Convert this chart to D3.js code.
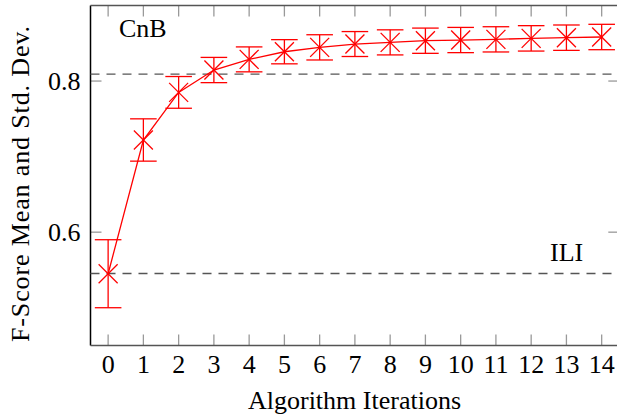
<!DOCTYPE html>
<html><head><meta charset="utf-8">
<script src="https://cdn.jsdelivr.net/npm/d3@7"></script>
<style>body{margin:0;background:#fff}svg{display:block}</style>
</head><body>
<svg id="c" width="617" height="416"></svg>
<script>
const iterations = [0,1,2,3,4,5,6,7,8,9,10,11,12,13,14];
const meanF = [0.545,0.722,0.785,0.8146,0.8287,0.8388,0.8446,0.849,0.8512,0.8534,0.8543,0.8552,0.8565,0.8574,0.8583];
const stdF  = [0.045,0.028,0.021,0.0167,0.0165,0.016,0.0167,0.0165,0.0166,0.0167,0.0167,0.0167,0.0168,0.0168,0.0168];
const xTicks = [0,1,2,3,4,5,6,7,8,9,10,11,12,13,14];
const yTicks = [0.6,0.8];
const refLines = [{name:"CnB", value:0.8093},{name:"ILI", value:0.5453}];

const svg = d3.select("#c");
const L=90.5, R=619.3, T=5.5, B=345.5;
const x = d3.scaleLinear().domain([-0.5,14.5]).range([L,R]);
const y = d3.scaleLinear().domain([0.45,0.9]).range([B,T]);
const fs = 26;
const tickLen = 11;
const font = '"Liberation Serif"';

// ticks (inside, mirrored)
const gt = svg.append("g").attr("stroke","#999").attr("stroke-width",1.3);
xTicks.forEach(t=>{
  gt.append("line").attr("x1",x(t)).attr("x2",x(t)).attr("y1",B).attr("y2",B-tickLen);
  gt.append("line").attr("x1",x(t)).attr("x2",x(t)).attr("y1",T).attr("y2",T+tickLen);
});
yTicks.forEach(t=>{
  gt.append("line").attr("y1",y(t)).attr("y2",y(t)).attr("x1",L).attr("x2",L+tickLen);
  gt.append("line").attr("y1",y(t)).attr("y2",y(t)).attr("x1",R).attr("x2",R-tickLen);
});
svg.append("line").attr("x1",L).attr("x2",L).attr("y1",T).attr("y2",B).attr("stroke","#000").attr("stroke-width",1.5);
svg.append("line").attr("x1",L).attr("x2",R).attr("y1",B).attr("y2",B).attr("stroke","#555").attr("stroke-width",1.5);
svg.append("line").attr("x1",L).attr("x2",R).attr("y1",T).attr("y2",T).attr("stroke","#555").attr("stroke-width",1.5);

const txt = (sel)=>sel.append("text").style("font-family",font).style("font-size",fs+"px").attr("fill","#000");

// tick labels
xTicks.forEach(t=>{
  txt(svg).attr("x",x(t)).attr("y",372.5).attr("text-anchor","middle").text(d3.format("d")(t));
});
yTicks.forEach(t=>{
  txt(svg).attr("x",80.5).attr("y",y(t)+8.5).attr("text-anchor","end").text(d3.format(".1f")(t));
});

// reference lines
refLines.forEach(r=>{
  svg.append("line").attr("x1",L).attr("x2",R).attr("y1",y(r.value)).attr("y2",y(r.value))
    .attr("stroke","#555").attr("stroke-width",1.3).attr("stroke-dasharray","9,7");
});
txt(svg).attr("x",119).attr("y",37).text(refLines[0].name);
txt(svg).attr("x",550).attr("y",261).text(refLines[1].name);

// series
const data = iterations.map((d,i)=>({x:d,m:meanF[i],s:stdF[i]}));
const red = "#ff0000";
svg.append("path").datum(data)
  .attr("d", d3.line().x(d=>x(d.x)).y(d=>y(d.m)))
  .attr("fill","none").attr("stroke",red).attr("stroke-width",1.3);
const cap = 13.3, mk = 9.5;
const g = svg.append("g").attr("stroke",red).attr("stroke-width",1.3).attr("fill","none");
data.forEach(d=>{
  const cx=x(d.x), cy=y(d.m), y1=y(d.m+d.s), y2=y(d.m-d.s);
  g.append("line").attr("x1",cx).attr("x2",cx).attr("y1",y1).attr("y2",y2);
  g.append("line").attr("x1",cx-cap).attr("x2",cx+cap).attr("y1",y1).attr("y2",y1);
  g.append("line").attr("x1",cx-cap).attr("x2",cx+cap).attr("y1",y2).attr("y2",y2);
  g.append("line").attr("x1",cx-mk).attr("x2",cx+mk).attr("y1",cy-mk).attr("y2",cy+mk);
  g.append("line").attr("x1",cx-mk).attr("x2",cx+mk).attr("y1",cy+mk).attr("y2",cy-mk);
});

// axis labels
txt(svg).attr("x",354.5).attr("y",409).attr("text-anchor","middle").text("Algorithm Iterations");
txt(svg).attr("transform",`translate(29,184) rotate(-90)`)
  .attr("text-anchor","middle").attr("textLength",316).attr("lengthAdjust","spacing")
  .text("F-Score Mean and Std. Dev.");
</script>
</body></html>
